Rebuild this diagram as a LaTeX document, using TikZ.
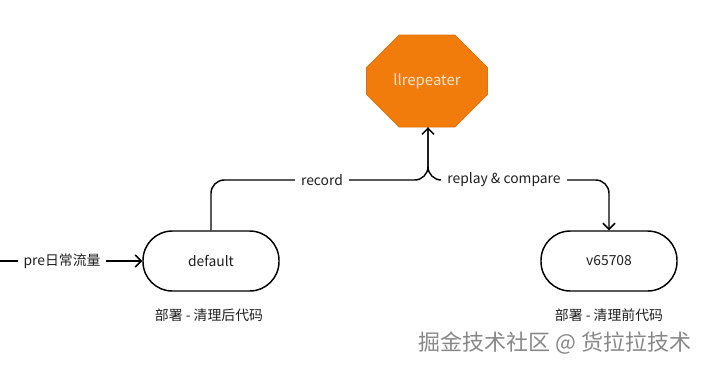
\documentclass[tikz,border=0pt]{standalone}
\usepackage{fontspec}
\setmainfont{Noto Sans CJK SC}
\usetikzlibrary{arrows.meta,shapes.misc}
\definecolor{orfill}{RGB}{241,124,12}
\definecolor{ordraw}{RGB}{226,112,8}
\definecolor{ortext}{RGB}{252,230,205}
\definecolor{txt}{RGB}{30,30,30}
\definecolor{wm}{RGB}{135,135,135}
\begin{document}
\begin{tikzpicture}[x=0.75pt,y=-0.75pt,
  font=\fontsize{10.4}{12}\selectfont,
  line width=1.1pt,
  arr/.style={-{Straight Barb[length=4.5pt,width=9pt]}},
  pill/.style={draw=black,fill=white,rounded corners=22pt,minimum width=102pt,minimum height=45pt,text=txt},
  octo/.style={chamfered rectangle,chamfered rectangle xsep=25.9pt,chamfered rectangle ysep=18.75pt,
     minimum width=90.75pt,minimum height=69pt,inner sep=0pt,fill=orfill,draw=ordraw,line width=0.6pt,text=ortext,
     font=\fontsize{11.2}{13}\selectfont},
  lbl/.style={fill=white,text=txt,inner xsep=4.5pt,inner ysep=1pt},
  captext/.style={text=txt}]
\useasboundingbox (0,0) rectangle (704,368);
\node[octo] (rep) at (427,81) {llrepeater};
\node[pill] (def) at (211,261) {default};
\node[pill] (v) at (609,261) {v65708};
\coordinate (in) at (0,261);
\coordinate (j) at (428,180);
\draw[arr] (in) -- (def.west);
\node[lbl] (lpre) at (62,261) {pre日常流量};
\draw[arr,rounded corners=10pt] (def.north) |- (j) -- (j |- rep.south);
\draw[arr,rounded corners=10pt] (j |- rep.south) -- (j) -| (v.north);
\node[lbl] (lrec) at (322,180) {record};
\node[lbl] (lrep) at (504,180) {replay \& compare};
\node[captext] (cdef) at (209,315) {部署 - 清理后代码};
\node[captext] (cv) at (609,315) {部署 - 清理前代码};
\node[text=wm,font=\fontsize{16.5}{18}\selectfont] (wmk) at (555,343) {掘金技术社区 @ 货拉拉技术};
\end{tikzpicture}
\end{document}
